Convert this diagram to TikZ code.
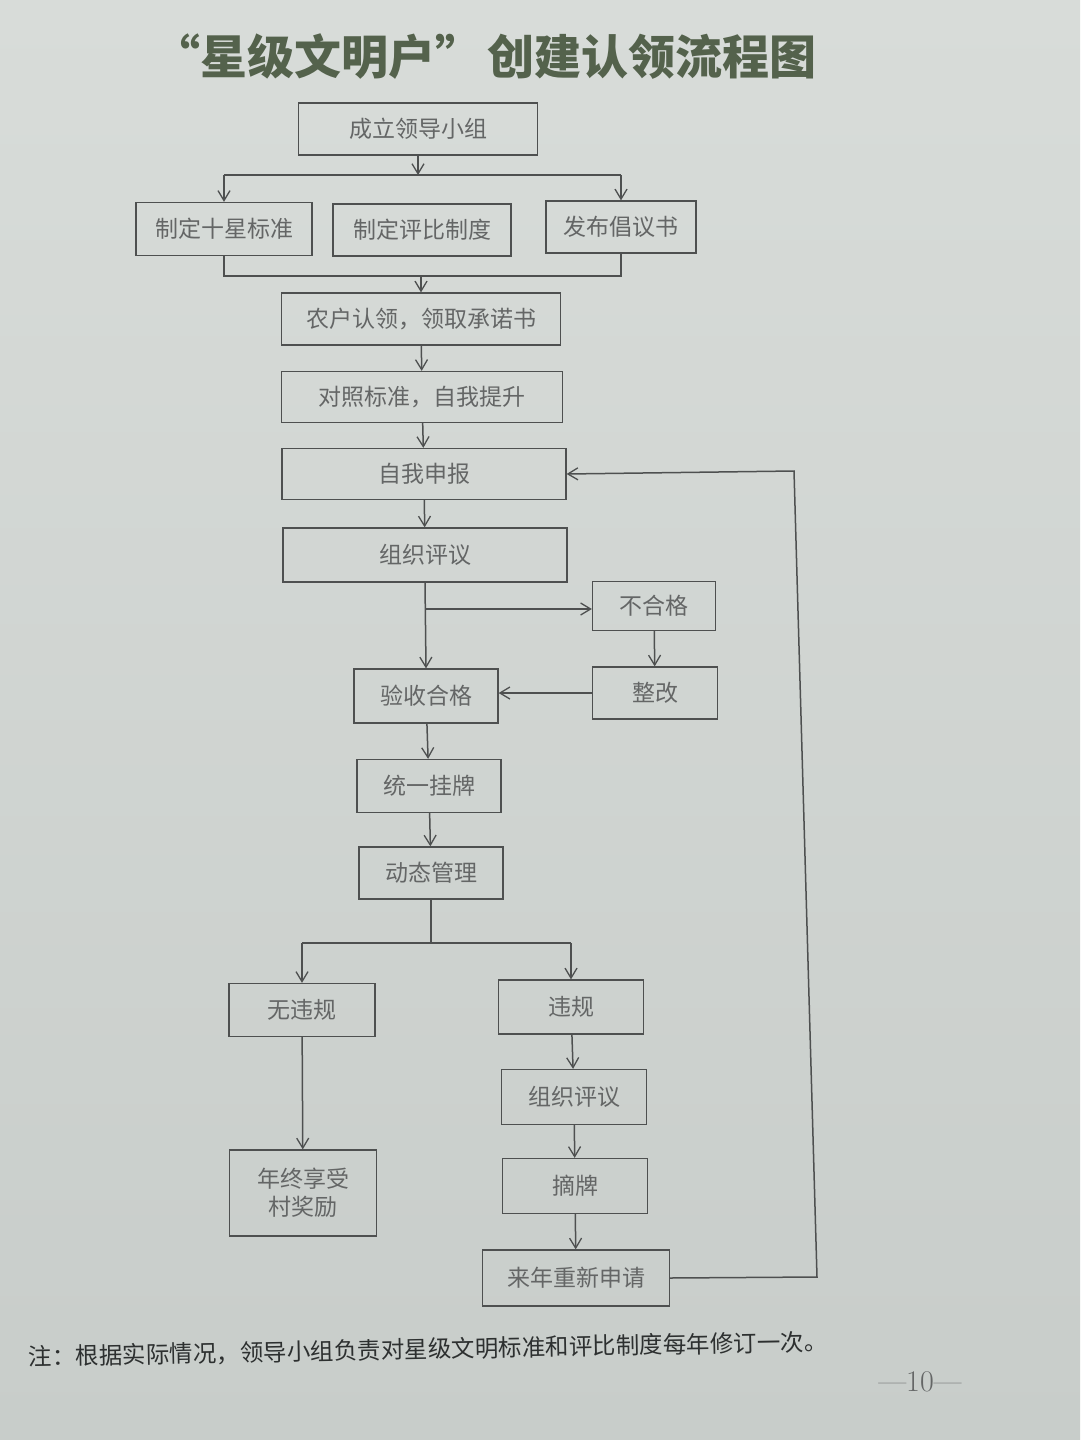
\documentclass[tikz,border=0pt]{standalone}
\usepackage{fontspec}
\newfontfamily\cjk{Noto Sans CJK SC}
\usetikzlibrary{arrows.meta}
\definecolor{bg}{RGB}{216,220,217}
\definecolor{bgdark}{RGB}{200,205,202}
\definecolor{linec}{RGB}{78,80,80}
\definecolor{txtc}{RGB}{100,102,102}
\definecolor{titlec}{RGB}{84,98,76}
\definecolor{notec}{RGB}{45,48,48}
\tikzset{
  box/.style={draw=linec, line width=1.3pt, inner sep=0pt, font=\cjk\fontsize{23}{28}\selectfont, text=txtc, align=center},
  ln/.style={draw=linec, line width=1.5pt},
  arr/.style={ln, -{Straight Barb[length=10pt,width=12pt,line width=1.3pt]}},
}
\begin{document}
\begin{tikzpicture}[x=1pt,y=-1pt]
\shade[top color=bg, bottom color=bgdark] (0,0) rectangle (1080,1440);
\useasboundingbox (0,0) rectangle (1080,1440);
% title
\node[font=\cjk\bfseries\fontsize{47}{52}\selectfont, text=titlec] (title) at (485,57) {“星级文明户”\hspace{-6pt} 创建认领流程图};
% nodes
\node[box, minimum width=239pt, minimum height=52pt] (a) at (418,129) {成立领导小组};
\node[box, minimum width=176pt, minimum height=53pt] (s1) at (224,229) {制定十星标准};
\node[box, minimum width=178pt, minimum height=52pt] (s2) at (422,230) {制定评比制度};
\node[box, minimum width=150pt, minimum height=52pt] (s3) at (621,227) {发布倡议书};
\node[box, minimum width=279pt, minimum height=52pt] (c) at (421,319) {农户认领，领取承诺书};
\node[box, minimum width=281pt, minimum height=51pt] (d) at (422,397) {对照标准，自我提升};
\node[box, minimum width=284pt, minimum height=51pt] (e) at (424,474) {自我申报};
\node[box, minimum width=284pt, minimum height=54pt] (f) at (425,555) {组织评议};
\node[box, minimum width=123pt, minimum height=49pt] (g) at (654,606) {不合格};
\node[box, minimum width=125pt, minimum height=52pt] (h) at (655,693) {整改};
\node[box, minimum width=144pt, minimum height=54pt] (i) at (426,696) {验收合格};
\node[box, minimum width=144pt, minimum height=53pt] (j) at (429,786) {统一挂牌};
\node[box, minimum width=144pt, minimum height=52pt] (k) at (431,873) {动态管理};
\node[box, minimum width=146pt, minimum height=53pt] (l) at (302,1010) {无违规};
\node[box, minimum width=145pt, minimum height=54pt] (m) at (571,1007) {违规};
\node[box, minimum width=147pt, minimum height=86pt] (n) at (303,1193) {年终享受\\村奖励};
\node[box, minimum width=145pt, minimum height=55pt] (o) at (574,1097) {组织评议};
\node[box, minimum width=145pt, minimum height=55pt] (p) at (575,1186) {摘牌};
\node[box, minimum width=187pt, minimum height=56pt] (q) at (576,1278) {来年重新申请};
% coordinates
\coordinate (bus1) at (418,175);
\coordinate (bus2) at (421,276);
\coordinate (br) at (425,609);
\coordinate (bus3) at (431,943);
\coordinate (r1) at (817,1277);
\coordinate (r2) at (794,471);
% connectors
\draw[arr] (a.south) -- (bus1);
\draw[ln] (s1.north |- bus1) -- (s3.north |- bus1);
\draw[arr] (s1.north |- bus1) -- (s1.north);
\draw[arr] (s3.north |- bus1) -- (s3.north);
\draw[ln] (s1.south) -- (s1.south |- bus2) -- (s3.south |- bus2) -- (s3.south);
\draw[arr] (bus2) -- (c.north);
\draw[arr] (c) -- (d);
\draw[arr] (d) -- (e);
\draw[arr] (e) -- (f);
\draw[arr] (f.south) -- (i.north);
\draw[arr] (br) -- (br -| g.west);
\draw[arr] (g) -- (h);
\draw[arr] (h.west) -- (h.west -| i.east);
\draw[arr] (i) -- (j);
\draw[arr] (j) -- (k);
\draw[ln] (k.south) -- (bus3);
\draw[ln] (bus3 -| l.north) -- (bus3 -| m.north);
\draw[arr] (bus3 -| l.north) -- (l.north);
\draw[arr] (bus3 -| m.north) -- (m.north);
\draw[arr] (l) -- (n);
\draw[arr] (m) -- (o);
\draw[arr] (o) -- (p);
\draw[arr] (p) -- (q);
\draw[arr] (q.east) -- (r1) -- (r2) -- (e.east);
% note
\node[font=\cjk\fontsize{23.5}{28}\selectfont, text=notec, anchor=west, rotate=1.1] (note) at (25,1357) {注：根据实际情况，领导小组负责对星级文明标准和评比制度每年修订一次。};
\node[font=\fontsize{30}{34}\selectfont, text=txtc] (pg) at (920,1382) {---10---};
\end{tikzpicture}
\end{document}
